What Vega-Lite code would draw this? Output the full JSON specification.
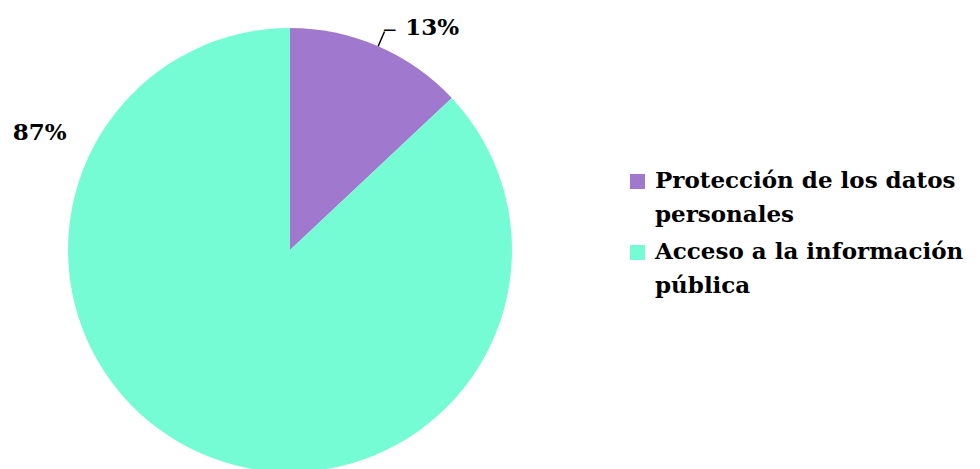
{
  "$schema": "https://vega.github.io/schema/vega-lite/v6.json",
  "width": 580,
  "height": 500,
  "padding": 0,
  "background": "white",
  "view": {"stroke": null},
  "config": {"font": "DejaVu Serif"},
  "data": {"values": [
    {"category": "Protección de los datos personales", "value": 0.13, "order": 1},
    {"category": "Acceso a la información pública", "value": 0.87, "order": 2}
  ]},
  "encoding": {
    "theta": {"field": "value", "type": "quantitative", "stack": true},
    "order": {"field": "order", "type": "quantitative"}
  },
  "layer": [
    {
      "mark": {"type": "arc", "outerRadius": 222},
      "encoding": {
        "color": {
          "field": "category", "type": "nominal",
          "scale": {"domain": ["Protección de los datos personales", "Acceso a la información pública"], "range": ["#A078CE", "#76FCD4"]},
          "legend": {
            "title": null, "orient": "none", "legendX": 626, "legendY": 170,
            "symbolType": "square", "symbolSize": 225, "symbolStrokeWidth": 0,
            "labelFont": "DejaVu Serif", "labelFontSize": 23, "labelFontWeight": "bold", "labelColor": "black",
            "labelLimit": 400, "labelOffset": 6, "rowPadding": 13,
            "labelExpr": "datum.label == 'Protección de los datos personales' ? ['Protección de los datos', 'personales'] : ['Acceso a la información', 'pública']",
            "encode": {"labels": {"update": {"lineHeight": {"value": 34}, "baseline": {"value": "top"}, "dy": {"value": -12}}}}
          }
        }
      }
    },
    {
      "transform": [{"filter": "datum.order == 1"}],
      "mark": {"type": "arc", "radius": 222, "radius2": 238, "padAngle": 1.5, "fill": null, "filled": false, "stroke": "black", "strokeWidth": 1.5}
    },
    {
      "transform": [{"filter": "datum.order == 1"}],
      "mark": {"type": "text", "text": "—", "radius": 241.7, "thetaOffset": 0.0175, "font": "DejaVu Serif", "fontSize": 13, "fontWeight": "bold", "color": "black", "baseline": "middle"}
    },
    {
      "transform": [{"filter": "datum.order == 1"}],
      "mark": {"type": "text", "radius": 264, "thetaOffset": 0.16, "font": "DejaVu Serif", "fontSize": 23, "fontWeight": "bold", "color": "black"},
      "encoding": {"text": {"field": "value", "type": "quantitative", "format": ".0%"}}
    },
    {
      "transform": [{"filter": "datum.order == 2"}],
      "mark": {"type": "text", "radius": 276, "thetaOffset": 2.415, "font": "DejaVu Serif", "fontSize": 23, "fontWeight": "bold", "color": "black"},
      "encoding": {"text": {"field": "value", "type": "quantitative", "format": ".0%"}}
    }
  ]
}
